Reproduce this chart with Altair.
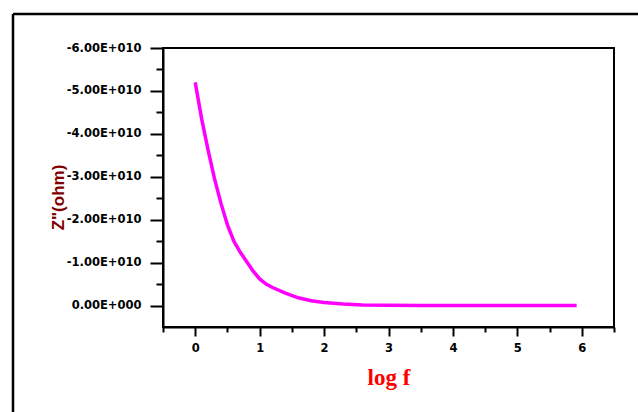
import altair as alt
import pandas as pd

# data
log_f = [0.0, 0.1, 0.2, 0.3, 0.4, 0.5, 0.6, 0.7, 0.8, 0.9, 1.0, 1.1, 1.2, 1.4,
         1.6, 1.8, 2.0, 2.3, 2.6, 3.0, 3.5, 4.0, 4.5, 5.0, 5.5, 5.92]
z_imag = [-5.20e10, -4.35e10, -3.62e10, -2.95e10, -2.38e10, -1.88e10, -1.50e10,
          -1.24e10, -1.02e10, -0.80e10, -0.62e10, -0.50e10, -0.42e10, -0.29e10,
          -0.18e10, -0.11e10, -0.07e10, -0.035e10, -0.015e10, -0.005e10,
          -0.002e10, -0.001e10, 0.0, 0.0, 0.0, 0.0]

x_ticks = [-0.5, 0, 0.5, 1, 1.5, 2, 2.5, 3, 3.5, 4, 4.5, 5, 5.5, 6, 6.5]
y_ticks = [-6e10, -5.5e10, -5e10, -4.5e10, -4e10, -3.5e10, -3e10, -2.5e10,
           -2e10, -1.5e10, -1e10, -0.5e10, 0.0]

df = pd.DataFrame({"logf": log_f, "z": z_imag})

W, H = 451, 279
LEFT, TOP = 163, 48

line = alt.Chart(df).mark_line(color="#ff00ff", strokeWidth=3.5).encode(
    x=alt.X("logf:Q",
            scale=alt.Scale(domain=[-0.5, 6.5], nice=False, zero=False),
            axis=alt.Axis(
                values=x_ticks,
                title="log f",
                titleFont="Liberation Serif", titleFontSize=23, titleFontWeight="bold",
                titleColor="#ff0000", titleBaseline="alphabetic", titleY=57,
                labelExpr="datum.value % 1 === 0 ? format(datum.value, 'd') : ''",
                labelFont="DejaVu Sans", labelFontSize=11.5, labelFontWeight="bold",
                labelColor="black", labelPadding=6,
                tickSize={"condition": {"test": "datum.value % 1 !== 0", "value": 5}, "value": 9},
                tickColor="black", tickWidth=2,
                domainColor="black", domainWidth=2,
                grid=False, labelFlush=False, labelOverlap=False)),
    y=alt.Y("z:Q",
            scale=alt.Scale(domain=[0.5e10, -6e10], nice=False, zero=False),
            axis=alt.Axis(
                values=y_ticks,
                title='Z"(ohm)',
                titleFont="Liberation Sans", titleFontSize=17, titleFontWeight="bold",
                titleColor="#800000", titleAngle=270, titleAlign="center",
                titleBaseline="middle", titleX=-105, titleY=149,
                labelExpr="(datum.value / 1e10) % 1 !== 0 ? '' : (datum.value === 0 ? '0.00E+000' : (datum.value < 0 ? '-' : '') + format(abs(datum.value) / 1e10, '.2f') + 'E+010')",
                labelFont="DejaVu Sans", labelFontSize=11.5, labelFontWeight="bold",
                labelColor="black", labelPadding=9,
                tickSize={"condition": {"test": "(datum.value / 1e10) % 1 !== 0", "value": 7}, "value": 13},
                tickColor="black", tickWidth=2,
                domainColor="black", domainWidth=2,
                grid=False, labelFlush=False, labelOverlap=False)),
)

frame_top = alt.Chart(pd.DataFrame({"a": [0]})).mark_rule(color="black", strokeWidth=2.5).encode(
    x=alt.value(13 - LEFT), x2=alt.value(638 - LEFT), y=alt.value(14 - TOP))
frame_left = alt.Chart(pd.DataFrame({"a": [0]})).mark_rule(color="black", strokeWidth=2.5).encode(
    x=alt.value(13 - LEFT), y=alt.value(14 - TOP), y2=alt.value(412 - TOP + 5))

chart = alt.layer(line, frame_top, frame_left).properties(
    width=W, height=H,
    autosize=alt.AutoSizeParams(type="none"),
    padding={"left": LEFT, "top": TOP, "right": 638 - LEFT - W, "bottom": 412 - TOP - H},
    background="white",
).configure_view(stroke="black", strokeWidth=2)

chart.save("out.html", embed_options={"renderer": "svg", "actions": False})
